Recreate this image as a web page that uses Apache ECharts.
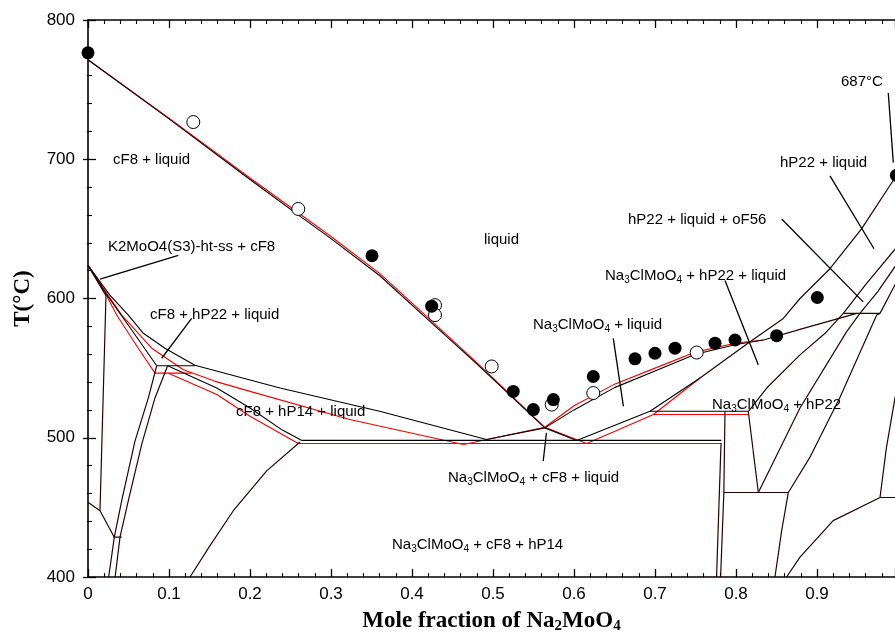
<!DOCTYPE html>
<html>
<head>
<meta charset="utf-8">
<script src="https://cdn.jsdelivr.net/npm/echarts@6/dist/echarts.min.js"></script>
<style>
  html, body { margin: 0; padding: 0; background: #fff; }
  #chart { width: 895px; height: 639px; }
</style>
</head>
<body>
<div id="chart"></div>
<script>
// x = mole fraction Na2MoO4, T in °C
// the original frame runs to x = 1 just past the right edge of the picture
const xRange = [0, 0.9963]
const yTicks = [400, 500, 600, 700, 800]

// experimental points
const filledPts = [[0, 776.4], [0.3506, 630.7], [0.4243, 594.5], [0.525, 533.3], [0.5498, 520.2],
  [0.5745, 527.4], [0.6238, 544], [0.6753, 556.7], [0.70, 560.7], [0.7247, 564.3], [0.7741, 567.9],
  [0.7988, 570.2], [0.8502, 573.3], [0.9004, 600.7], [0.998, 688.5]]
const openPts = [[0.13, 726.7], [0.2596, 664.3], [0.4284, 595.2], [0.4284, 588.1], [0.4984, 551.2],
  [0.5725, 523.8], [0.6238, 532.1], [0.7515, 561.2]]

// --- black calculation ---
const liqCF8Black = [[0, 771.5], [0.1, 729], [0.2, 685.5], [0.262, 659], [0.3, 643], [0.36, 616.5],
  [0.4136, 588], [0.48, 553], [0.564, 507.1], [0.6033, 498.1]]
const liqNaBlack = [[0.492, 498.8], [0.564, 507.1], [0.60, 520], [0.65, 536], [0.70, 548],
  [0.75, 560], [0.80, 567], [0.834, 570.2]]
const upperBlack = [[0, 623.8], [0.027, 602.4], [0.0498, 588.1], [0.0683, 575], [0.095, 564.3],
  [0.132, 552], [0.237, 535.7], [0.36, 519], [0.492, 498.8]]
const innerBlack = [[0, 623.8], [0.024, 602], [0.054, 577.4], [0.0848, 551.7]]
const lowerBlack = [[0.0983, 551.7], [0.159, 535.7], [0.2, 521.4], [0.24, 505.5], [0.264, 498.1]]
const h552Black = [[0.0848, 551.7], [0.132, 551.7]]
const h498Black = [[0.264, 498.1], [0.782, 498.1]]
const h519Black = [[0.6938, 519], [0.8152, 519]]
const tailBlack = [[0.7556, 542.9], [0.6938, 519], [0.6033, 498.1]]

// --- red calculation ---
const liqCF8Red = [[0, 771.5], [0.1, 729.5], [0.2, 686.5], [0.262, 660.5], [0.3, 644.5], [0.36, 618],
  [0.4136, 589.5], [0.48, 554], [0.564, 507.5], [0.6156, 495.9]]
const liqNaRed = [[0.4634, 495.2], [0.564, 507.5], [0.60, 523], [0.65, 538.5], [0.70, 550],
  [0.75, 561.5], [0.80, 568], [0.834, 570.2]]
const upperRed = [[0, 623.8], [0.024, 603], [0.0416, 588.1], [0.0786, 564.3], [0.1177, 548.8],
  [0.157, 540.5], [0.2, 533.3], [0.323, 513.1], [0.4634, 495.2]]
const innerRed = [[0, 623.8], [0.022, 603], [0.0354, 588.1], [0.062, 564.3], [0.0827, 546.4]]
const lowerRed = [[0.0992, 546.4], [0.159, 531], [0.2, 515.5], [0.2596, 495.9]]
const h546Red = [[0.0827, 546.4], [0.128, 546.4]]
const h496Red = [[0.259, 495.9], [0.782, 495.9]]
const h517Red = [[0.698, 516.7], [0.8152, 516.7]]
const tailRed = [[0.7556, 542.9], [0.698, 516.7], [0.6156, 495.9]]

// --- lines where both calculations coincide ---
const k2Solvus = [[0, 623.8], [0.0222, 602], [0.0148, 447.6]]
const k2Low = [[0, 453.6], [0.0148, 447.6], [0.0325, 428.6]]
const h429 = [[0.0313, 428.6], [0.0416, 428.6]]
const bandLeft = [[0.0255, 400], [0.0325, 428.6], [0.0416, 454.8], [0.058, 497.6], [0.0745, 528.6], [0.0848, 551.7]]
const bandRight = [[0.0335, 400], [0.0395, 428.6], [0.0498, 454.8], [0.0663, 495.2], [0.0827, 528.6], [0.0983, 551.7]]
const hp14Solvus = [[0.126, 400], [0.15, 422], [0.1794, 447.6], [0.2206, 476.2], [0.2617, 497]]
const liqHP22 = [[1, 690], [0.955, 650], [0.916, 621.4], [0.879, 600], [0.8584, 585.7],
  [0.8173, 569], [0.7556, 542.9]]
const liqHigh = [[0.834, 570.2], [0.88, 578], [0.949, 589.3]]
const curveC = [[0.8152, 518.7], [0.8379, 535.7], [0.879, 559.5], [0.91, 575], [0.9325, 589.3]]
const curveE = [[0.8276, 460.7], [0.879, 521.4], [0.9366, 576.2], [0.953, 589.3]]
const curveF = [[0.8646, 460.7], [0.891, 485.7], [0.928, 528.6], [0.9737, 588.1], [0.9778, 589.3]]
const h589 = [[0.9325, 589.3], [0.9778, 589.3]]
const up1 = [[0.9325, 589.3], [0.96, 610], [1, 638]]
const up2 = [[0.953, 589.3], [0.975, 605], [1, 626]]
const up3 = [[0.9778, 589.3], [1, 614]]
const vert1 = [[0.7864, 518.7], [0.785, 460.7], [0.781, 400]]
const vert2 = [[0.7815, 496], [0.776, 400]]
const h461 = [[0.785, 460.7], [0.8646, 460.7]]
const seg1 = [[0.8152, 518.7], [0.8276, 460.7]]
const seg2 = [[0.8646, 460.7], [0.8564, 433.3], [0.8481, 400]]
const lowRight = [[0.8625, 400], [0.879, 414.3], [0.92, 440.5], [0.9778, 457.1]]
const h457 = [[0.9778, 457.1], [1, 457.1]]
const rightEdge = [[0.9778, 457.1], [0.9857, 492.9], [0.9963, 528.6], [1, 540]]

// leader lines for labels
const leaders = [
  [[0.0148, 614], [0.1115, 630.9]],
  [[0.091, 557.1], [0.128, 585.7]],
  [[0.566, 503.6], [0.562, 483.3]],
  [[0.6485, 571.4], [0.661, 522.6]],
  [[0.7864, 613], [0.8275, 552.4]],
  [[0.8564, 657.1], [0.957, 597.6]],
  [[0.916, 688.1], [0.9704, 635.7]],
  [[0.988, 747.6], [0.9942, 697.6]],
]

const labelTexts = [
  'cF8 + liquid', 'K2MoO4(S3)-ht-ss + cF8', 'cF8 + hP22 + liquid', 'liquid', 'cF8 + hP14 + liquid',
  'Na{s|3}ClMoO{s|4} + liquid', 'Na{s|3}ClMoO{s|4} + hP22 + liquid', 'hP22 + liquid + oF56',
  'hP22 + liquid', '687°C', 'Na{s|3}ClMoO{s|4} + hP22', 'Na{s|3}ClMoO{s|4} + cF8 + liquid',
  'Na{s|3}ClMoO{s|4} + cF8 + hP14',
]
// left edge / vertical centre in pixels
const labelAt = [[113, 160], [108, 247], [150, 315], [484, 240], [236, 412], [533, 325], [605, 276],
  [628, 220], [780, 163], [841, 82], [712, 405], [448, 478], [392, 545]]

const SANS = "'Liberation Sans', Arial, sans-serif"
const SERIF = "'Liberation Serif', 'Times New Roman', serif"
const RED = '#ff0000'
const DARK = '#2a0000'

function path(data, color, width, z) {
  return {
    type: 'line',
    data,
    symbol: 'none',
    showSymbol: false,
    silent: true,
    lineStyle: { color, width },
    z: z || 2,
  }
}

const redLines = [liqCF8Red, liqNaRed, upperRed, innerRed, lowerRed, h546Red, h496Red, h517Red, tailRed]
const blackLines = [liqCF8Black, liqNaBlack, upperBlack, innerBlack, lowerBlack, h552Black, h498Black, h519Black, tailBlack]
const darkLines = [k2Solvus, k2Low, h429, bandLeft, bandRight, hp14Solvus, liqHP22, liqHigh, curveC, curveE,
  curveF, h589, up1, up2, up3, vert1, vert2, h461, seg1, seg2, lowRight, h457, rightEdge]

const series = []
redLines.forEach((d) => series.push(path(d, RED, 1.1, 2)))
blackLines.forEach((d) => series.push(path(d, '#000', 1.1, 3)))
darkLines.forEach((d) => series.push(path(d, DARK, 1.2, 3)))
leaders.forEach((d) => series.push(path(d, '#000', 1.3, 3)))

series.push({
  type: 'scatter',
  data: openPts,
  symbol: 'circle',
  symbolSize: 13,
  clip: false,
  itemStyle: { color: '#fff', borderColor: '#000', borderWidth: 1, opacity: 1 },
  z: 5,
})
series.push({
  type: 'scatter',
  data: filledPts,
  symbol: 'circle',
  symbolSize: 13,
  clip: false,
  itemStyle: { color: '#000', opacity: 1 },
  z: 6,
})

const subRich = {
  s: { fontSize: 10, fontFamily: SANS, verticalAlign: 'bottom', lineHeight: 18 },
}

const graphic = labelTexts.map((t, i) => ({
  type: 'text',
  x: labelAt[i][0],
  y: labelAt[i][1],
  silent: true,
  z: 10,
  style: {
    text: t,
    font: '15px ' + SANS,
    fill: '#000',
    align: 'left',
    verticalAlign: 'middle',
    lineHeight: 18,
    rich: subRich,
  },
}))

const tickStyle = { show: true, inside: true, length: 8, lineStyle: { color: '#000', width: 1.3 } }
const minorStyle = { show: true, splitNumber: 5, length: 4, lineStyle: { color: '#000', width: 1.1 } }

const chart = echarts.init(document.getElementById('chart'), null, { renderer: 'canvas' })
chart.setOption({
  animation: false,
  backgroundColor: '#fff',
  grid: { left: 88, top: 20, right: 0, bottom: 59, containLabel: false },
  xAxis: [
    {
      type: 'value',
      position: 'bottom',
      min: xRange[0],
      max: xRange[1],
      interval: 0.1,
      axisLine: { show: true, onZero: false, lineStyle: { color: '#000', width: 1.6 } },
      axisTick: tickStyle,
      minorTick: minorStyle,
      splitLine: { show: false },
      axisLabel: {
        show: true,
        color: '#000',
        fontSize: 17,
        fontFamily: SANS,
        margin: 9,
        showMaxLabel: false,
        formatter: (v) => (v === 0 ? '0' : v.toFixed(1)),
      },
      name: 'Mole fraction of Na{b|2}MoO{b|4}',
      nameLocation: 'middle',
      nameGap: 31,
      nameTextStyle: {
        color: '#000',
        fontFamily: SERIF,
        fontWeight: 'bold',
        fontSize: 23,
        lineHeight: 26,
        rich: {
          b: { fontFamily: SERIF, fontWeight: 'bold', fontSize: 15, verticalAlign: 'bottom', lineHeight: 26 },
        },
      },
    },
    {
      type: 'value',
      position: 'top',
      min: xRange[0],
      max: xRange[1],
      interval: 0.1,
      axisLine: { show: true, onZero: false, lineStyle: { color: '#000', width: 1.6 } },
      axisTick: tickStyle,
      minorTick: minorStyle,
      splitLine: { show: false },
      axisLabel: { show: false },
    },
  ],
  yAxis: [
    {
      type: 'value',
      position: 'left',
      min: yTicks[0],
      max: yTicks[yTicks.length - 1],
      interval: 100,
      axisLine: { show: true, onZero: false, lineStyle: { color: '#000', width: 1.6 } },
      axisTick: tickStyle,
      minorTick: minorStyle,
      splitLine: { show: false },
      axisLabel: { color: '#000', fontSize: 17, fontFamily: SANS, margin: 13 },
      name: 'T(°C)',
      nameLocation: 'middle',
      nameRotate: 90,
      nameGap: 53,
      nameTextStyle: { color: '#000', fontFamily: SERIF, fontWeight: 'bold', fontSize: 23 },
    },
    {
      // right frame lies just outside the picture; only the tips of its ticks show
      type: 'value',
      position: 'right',
      min: yTicks[0],
      max: yTicks[yTicks.length - 1],
      interval: 100,
      axisLine: { show: false },
      axisTick: { show: true, inside: true, length: 5, lineStyle: { color: '#000', width: 1.3 } },
      minorTick: { show: true, splitNumber: 5, length: 1, lineStyle: { color: '#000', width: 1 } },
      splitLine: { show: false },
      axisLabel: { show: false },
    },
  ],
  series,
  graphic,
})
</script>
</body>
</html>
